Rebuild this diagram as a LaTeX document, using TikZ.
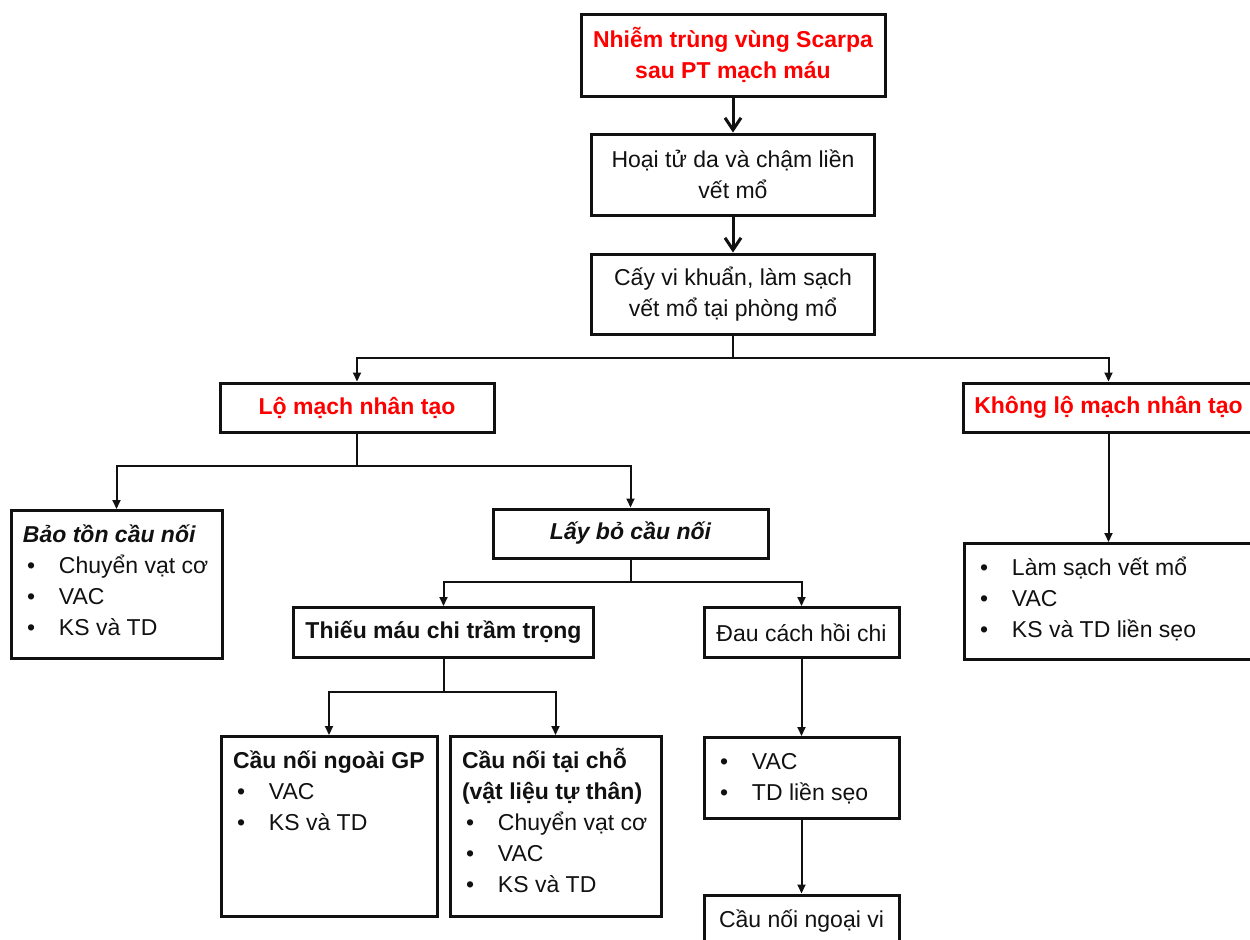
\documentclass[tikz,border=0pt]{standalone}
\usepackage{fontspec}
\setmainfont{Liberation Sans}
\usetikzlibrary{arrows.meta,positioning}
\definecolor{flowRed}{HTML}{FF0000}
\definecolor{ink}{HTML}{111111}
\newcommand{\FigBody}{\fontsize{11.5}{15.5}\selectfont}
\newcommand{\Bul}[1]{\hspace*{2pt}\makebox[16pt][l]{\textbullet}#1}
\newcommand{\ListBody}[3]{\parbox[c][#2][t]{#1}{\strut #3}}
\tikzset{
  box/.style={draw=ink, line width=1.5pt, inner sep=0pt, align=center,
    font=\FigBody, text=ink},
  redbox/.style={box, font=\FigBody\bfseries, text=flowRed},
  listbox/.style={draw=ink, line width=1.5pt, inner xsep=6pt, inner ysep=5pt,
    font=\FigBody, text=ink, anchor=north},
  wire/.style={draw=ink, line width=1pt},
  link/.style={wire, -{Triangle[length=4.5pt,width=4pt]}},
  bigarrow/.style={draw=ink, line width=1.5pt, -{Straight Barb[length=6pt,width=8pt]}},
}

\begin{document}
\begin{tikzpicture}[x=0.5pt,y=-0.5pt]
  \useasboundingbox (0,0) rectangle (1250,939);
  \clip (0,0) rectangle (1250,939);

  % top chain
  \node[redbox, minimum width=152pt, minimum height=41pt] (infect) at (733,55)
    {Nhiễm trùng vùng Scarpa\\sau PT mạch máu};
  \node[box, minimum width=141.5pt, minimum height=40.5pt] (necro) at (733,174.5)
    {Hoại tử da và chậm liền\\vết mổ};
  \node[box, minimum width=141.5pt, minimum height=40pt] (culture) at (733,294)
    {Cấy vi khuẩn, làm sạch\\vết mổ tại phòng mổ};
  \draw[bigarrow] (infect) -- (necro);
  \draw[bigarrow] (necro) -- (culture);

  % graft exposed or not
  \node[redbox, minimum width=137pt, minimum height=24.5pt] (exposed) at (357,407.5)
    {Lộ mạch nhân tạo};
  \node[redbox, minimum width=145pt, minimum height=24.5pt] (notexp) at (1108.5,407.5)
    {Không lộ mạch nhân tạo};

  \node[listbox] (keep) at (116.5,509) {\ListBody{93.5pt}{64pt}{%
    \textbf{\textit{Bảo tồn cầu nối}}\\\Bul{Chuyển vạt cơ}\\\Bul{VAC}\\\Bul{KS và TD}}};
  \node[box, font=\FigBody\bfseries\itshape, minimum width=137.5pt, minimum height=24.5pt]
    (remove) at (630.5,533.5) {Lấy bỏ cầu nối};
  \node[listbox] (clean) at (1108.5,542) {\ListBody{132.5pt}{48pt}{%
    \Bul{Làm sạch vết mổ}\\\Bul{VAC}\\\Bul{KS và TD liền sẹo}}};

  % after removal
  \node[box, font=\FigBody\bfseries, minimum width=150pt, minimum height=25pt]
    (ischemia) at (443.5,632.5) {Thiếu máu chi trầm trọng};
  \node[box, minimum width=97.5pt, minimum height=25pt] (claud) at (801.5,632.5)
    {Đau cách hồi chi};

  \node[listbox] (extra) at (329,735) {\ListBody{96pt}{80pt}{%
    \textbf{Cầu nối ngoài GP}\\\Bul{VAC}\\\Bul{KS và TD}}};
  \node[listbox] (insitu) at (555.5,735) {\ListBody{93.5pt}{80pt}{%
    \textbf{Cầu nối tại chỗ}\\\textbf{(vật liệu tự thân)}\\\Bul{Chuyển vạt cơ}\\\Bul{VAC}\\\Bul{KS và TD}}};
  \node[listbox] (wound) at (801.5,736) {\ListBody{85.5pt}{30.5pt}{%
    \Bul{VAC}\\\Bul{TD liền sẹo}}};
  \node[box, minimum width=97.5pt, minimum height=26pt] (periph) at (801.5,921)
    {Cầu nối ngoại vi};

  % junctions
  \coordinate (j1) at (733,358);
  \coordinate (j2) at (357,466);
  \coordinate (j3) at (630.5,582);
  \coordinate (j4) at (443.5,692);
  \draw[wire] (culture.south) -- (j1);
  \draw[wire] (exposed.south) -- (j2);
  \draw[wire] (remove.south) -- (j3);
  \draw[wire] (ischemia.south) -- (j4);
  \foreach \from/\to in {j1/exposed, j1/notexp, j2/keep, j2/remove,
                         j3/ischemia, j3/claud, j4/extra, j4/insitu}
    \draw[link] (\from) -| (\to.north);

  \draw[link] (notexp.south) -- (clean.north);
  \draw[link] (claud.south) -- (wound.north);
  \draw[link] (wound.south) -- (periph.north);
\end{tikzpicture}
\end{document}
